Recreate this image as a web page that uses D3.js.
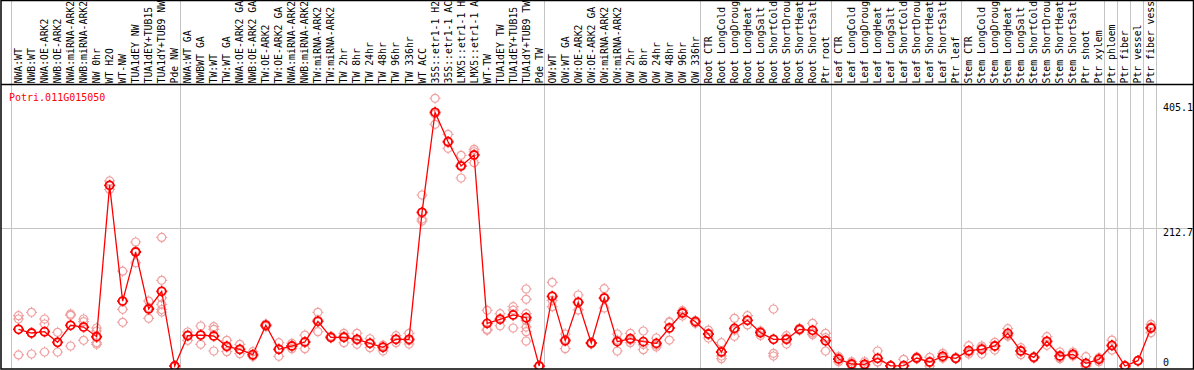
<!DOCTYPE html>
<html lang="en">
<head>
<meta charset="UTF-8">
<title>Potri.011G015050</title>
<script src="https://d3js.org/d3.v7.min.js"></script>
<style>
  body { margin: 0; background: #fff; }
  svg { display: block; }
  text { font-family: "DejaVu Sans Mono", "Liberation Mono", monospace; font-size: 10px; }
  .sample { font-size: 9.8px; }
</style>
</head>
<body>
<div id="chart"></div>
<script>
const geneName = "Potri.011G015050";

const labels = [
  "NWA:WT", "NWB:WT", "NWA:OE-ARK2", "NWB:OE-ARK2", "NWA:miRNA-ARK2", "NWB:miRNA-ARK2",
  "NW 0hr", "WT H2O", "WT-NW", "TUA1dEY NW", "TUA1dEY+TUB15 NW", "TUA1dY+TUB9 NW", "Pde NW",
  "NWA:WT GA", "NWBWT GA", "TW:WT", "TW:WT GA", "NWA:OE-ARK2 GA", "NWB:OE-ARK2 GA",
  "TW:OE-ARK2", "TW:OE-ARK2 GA", "NWA:miRNA-ARK2 GA", "NWB:miRNA-ARK2 GA", "TW:miRNA-ARK2",
  "TW:miRNA-ARK2 GA", "TW 2hr", "TW 8hr", "TW 24hr", "TW 48hr", "TW 96hr", "TW 336hr",
  "WT ACC", "35S::etr1-1 H2O", "35S::etr1-1 ACC", "LMX5::etr1-1 H2O", "LMX5::etr1-1 ACC",
  "WT-TW", "TUA1dEY TW", "TUA1dEY+TUB15 TW", "TUA1dY+TUB9 TW", "Pde TW",
  "OW:WT", "OW:WT GA", "OW:OE-ARK2", "OW:OE-ARK2 GA", "OW:miRNA-ARK2", "OW:miRNA-ARK2 GA",
  "OW 2hr", "OW 8hr", "OW 24hr", "OW 48hr", "OW 96hr", "OW 336hr",
  "Root CTR", "Root LongCold", "Root LongDrought", "Root LongHeat", "Root LongSalt",
  "Root ShortCold", "Root ShortDrought", "Root ShortHeat", "Root ShortSalt", "Ptr root",
  "Leaf CTR", "Leaf LongCold", "Leaf LongDrought", "Leaf LongHeat", "Leaf LongSalt",
  "Leaf ShortCold", "Leaf ShortDrought", "Leaf ShortHeat", "Leaf ShortSalt", "Ptr leaf",
  "Stem CTR", "Stem LongCold", "Stem LongDrought", "Stem LongHeat", "Stem LongSalt",
  "Stem ShortCold", "Stem ShortDrought", "Stem ShortHeat", "Stem ShortSalt", "Ptr shoot", "Ptr xylem",
  "Ptr phloem", "Ptr fiber", "Ptr vessel", "Ptr fiber vessel"
];

// mean expression per sample
const means = [
  56.5, 50.8, 52.8, 36.5, 62.7, 60.0, 45.2, 278.3, 100.0, 175.6, 87.8, 115.0, 0,
  46.7, 47.7, 46.2, 30.3, 25.7, 17.4, 62.7, 25.7, 30.8, 37.0, 68.8, 44.2, 44.2, 41.1,
  35.0, 28.8, 41.1, 41.1, 236.7, 390.8, 345.5, 308.0, 325.0, 65.7, 71.9, 78.6, 74.4, 0,
  107.3, 39.0, 98.1, 35.4, 104.7, 37.5, 42.1, 37.5, 34.9, 58.5, 81.6, 68.3,
  49.3, 21.6, 58.0, 70.4, 51.3, 41.1, 41.1, 56.5, 55.0, 39.0,
  10.8, 3.1, 2.6, 11.8, 0.3, 0.5, 12.3, 6.2, 14.9, 11.8,
  23.6, 25.7, 30.8, 50.3, 23.1, 13.3, 38.0, 15.4, 18.0, 4.1, 10.3,
  31.8, 0, 8.2, 58.5
];

// individual replicates per sample
const reps = [
  [77.5, 72.4, 17], [82.7, 51, 18.5], [72.4, 64.7, 21.6], [51.9, 36, 21.6], [80, 78, 30.8],
  [72.4, 68.3, 39.5], [58.5, 53.9, 44, 33.4, 36], [285, 278, 272], [146, 87.3, 67.3],
  [191, 159, 177], [100, 73.5, 90], [198, 132, 105, 95, 87, 83], [0, 0, 0],
  [52.4, 48, 39.5], [61.6, 48, 33.4], [60.5, 56.5, 23.1], [39.5, 29, 22], [33.4, 25, 19],
  [22, 15.4, 15], [64.7, 60.5, 63], [35.9, 26, 14.9], [35, 26.7, 31], [47.7, 37, 26.7],
  [82.7, 71, 52.9], [46, 43, 44], [50.3, 46, 35.9], [50.3, 40, 33.4], [42, 35, 28.2],
  [32, 31, 23.1], [46.7, 41, 36], [50.3, 39, 33.9], [263.4, 226.4, 223.3],
  [412.3, 388, 372.3], [356.9, 344, 335.3], [324.5, 310, 289.6], [333.8, 330, 313.2],
  [85.8, 56.5, 55], [80.6, 73, 62], [91.4, 86, 58.5], [118.6, 102.7, 80.6, 70, 60, 52.9, 38.5],
  [0, 0, 0],
  [128.9, 101, 91.4], [49.3, 41, 26.7], [109.4, 98.6, 86.3], [36, 34, 36], [119.1, 105.7, 89.3],
  [49.3, 40, 23.1], [50.3, 40, 35.9], [53.9, 33, 25.2], [43.1, 32, 29.3], [68.3, 67, 40],
  [85.2, 83, 77], [70, 66, 69],
  [55.4, 49, 43.1], [35.9, 15.4, 11.3], [73.4, 55, 45.7], [77.5, 70.5, 63.2], [54, 47, 53],
  [87.8, 19.5, 15.4], [46.7, 42.7, 33.9], [58, 56, 55], [65.7, 51, 48.3], [50.3, 43.6, 23.1],
  [14.4, 11.3, 6.7], [6.7, 2, 0.5], [6.7, 1, 0], [23.1, 6.2, 6], [0.5, 0.3, 0], [10.3, 0, 0],
  [14, 11, 12], [13.3, 5, 0], [19.5, 13, 11.8], [13, 11, 11.5],
  [31.3, 21, 18.5], [30.8, 28, 18.5], [36.5, 31, 24.6], [57.5, 47.2, 46], [28.2, 23.7, 17.4],
  [14, 12, 14], [45.2, 37, 31.8], [21.6, 13.3, 11.3], [21.6, 17, 15.4], [14.4, 0, 0],
  [12.8, 11, 6.7],
  [40, 31, 24.6], [0, 0, 0], [8, 8.5, 8], [64.2, 60, 51.3]
];

// sample indices where a gray group separator is drawn
const groupBreaks = [0, 13, 41, 53, 63, 73, 84, 85, 86, 87, 88];
const yTicks = [0, 212.7, 405.1];
const maxLabelChars = 14;

const width = 1194, height = 370;
const plotLeft = 10.5, plotRight = 1156, plotTop = 85, plotBottom = 369;

const svg = d3.select("#chart").append("svg")
  .attr("width", width)
  .attr("height", height);

const x = d3.scaleBand()
  .domain(d3.range(labels.length))
  .range([plotLeft, plotRight]);

const cx = i => x(i) + 8;

const y = d3.scaleLinear()
  .domain([0, 405.1])
  .range([366, 103]);

svg.append("defs").append("clipPath").attr("id", "plotClip")
  .append("rect")
  .attr("x", plotLeft).attr("y", plotTop)
  .attr("width", plotRight - plotLeft).attr("height", plotBottom - plotTop);

// gray grid: group separators and middle tick line
svg.append("g")
  .selectAll("line")
  .data(groupBreaks)
  .join("line")
  .attr("x1", d => Math.round(plotLeft + x.step() * d) + 0.5)
  .attr("x2", d => Math.round(plotLeft + x.step() * d) + 0.5)
  .attr("y1", 1)
  .attr("y2", plotBottom)
  .attr("stroke", "#c4c4c4");

svg.append("line")
  .attr("x1", 1).attr("x2", width - 1)
  .attr("y1", Math.round(y(212.7)) + 0.5).attr("y2", Math.round(y(212.7)) + 0.5)
  .attr("stroke", "#c4c4c4");

// sample labels, rotated; long names are cut like in the header of the original
svg.append("g")
  .selectAll("text")
  .data(labels)
  .join("text")
  .attr("class", "sample")
  .attr("transform", (d, i) => `translate(${cx(i) + 3.5},83.5) rotate(-90)`)
  .attr("fill", "#000")
  .text(d => d.slice(0, maxLabelChars));

// y axis labels on the right
svg.append("g")
  .selectAll("text")
  .data(yTicks)
  .join("text")
  .attr("x", 1163)
  .attr("y", d => d === 0 ? y(d) : y(d) + 8)
  .attr("fill", "#000")
  .text(d => d);

svg.append("text")
  .attr("x", 9)
  .attr("y", 101)
  .attr("fill", "#ff0000")
  .text(geneName);

function marker(r) {
  const p = d3.path();
  p.moveTo(r, 0);
  p.arc(0, 0, r, 0, 2 * Math.PI);
  [[0, -1], [0, 1], [-1, 0], [1, 0]].forEach(([dx, dy]) => {
    p.moveTo(dx * r, dy * r);
    p.lineTo(dx * (r + 1.5), dy * (r + 1.5));
  });
  return p.toString();
}

const plot = svg.append("g").attr("clip-path", "url(#plotClip)");

const repPoints = reps.flatMap((arr, i) => arr.map(v => ({ i, v })));

plot.append("g")
  .selectAll("path")
  .data(repPoints)
  .join("path")
  .attr("transform", d => `translate(${cx(d.i)},${y(d.v)})`)
  .attr("d", marker(4))
  .attr("fill", "none")
  .attr("stroke", "#f0a0a0")
  .attr("stroke-width", 1.2);

plot.append("path")
  .datum(means)
  .attr("fill", "none")
  .attr("stroke", "#ff0000")
  .attr("stroke-width", 1.3)
  .attr("d", d3.line().x((d, i) => cx(i)).y(d => y(d)));

plot.append("g")
  .selectAll("path")
  .data(means)
  .join("path")
  .attr("transform", (d, i) => `translate(${cx(i)},${y(d)})`)
  .attr("d", marker(4))
  .attr("fill", "none")
  .attr("stroke", "#ff0000")
  .attr("stroke-width", 1.8);

// black frame and header separator
svg.append("rect")
  .attr("x", 1).attr("y", 0.5)
  .attr("width", width - 1.5).attr("height", plotBottom - 0.5)
  .attr("fill", "none")
  .attr("stroke", "#000")
  .attr("stroke-width", 1.5);

svg.append("line")
  .attr("x1", 1).attr("x2", width - 1)
  .attr("y1", plotTop - 0.5).attr("y2", plotTop - 0.5)
  .attr("stroke", "#000")
  .attr("stroke-width", 1.5);
</script>
</body>
</html>
